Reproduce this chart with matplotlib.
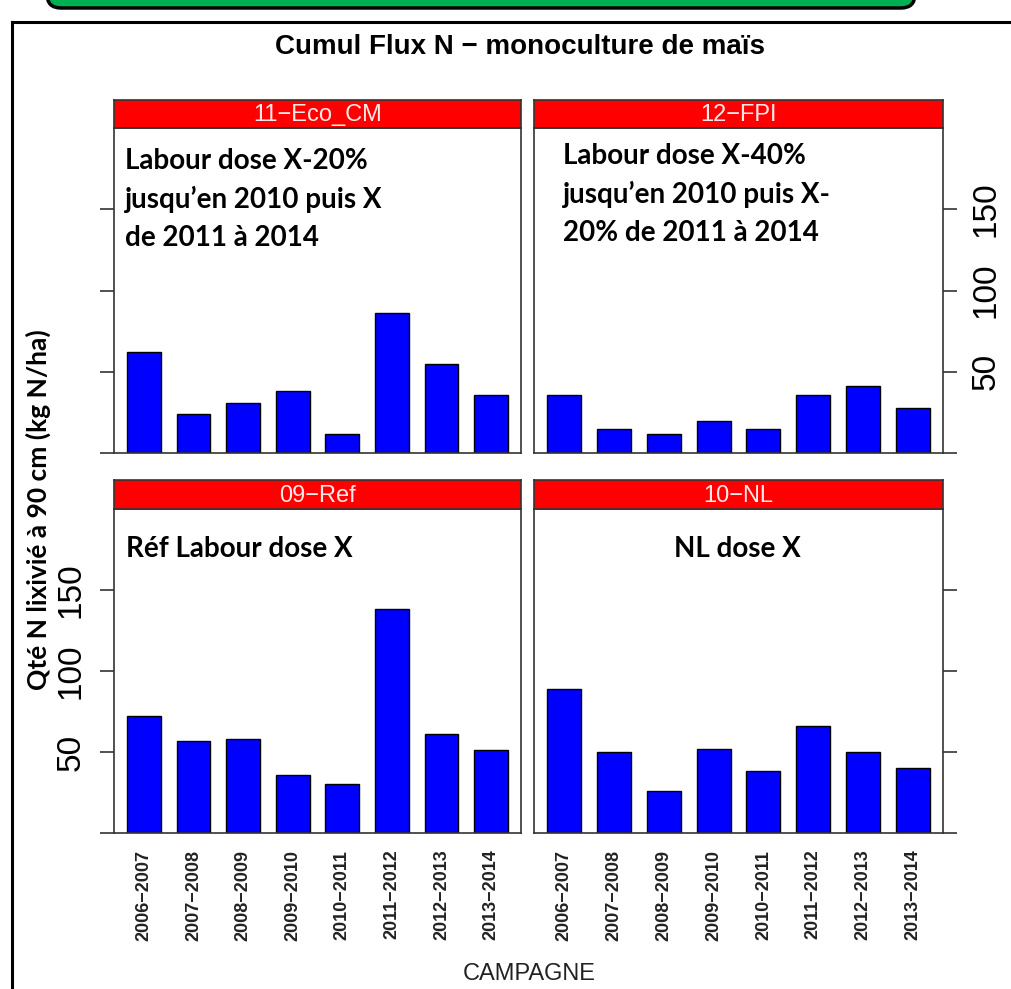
import numpy as np
import matplotlib.pyplot as plt
from matplotlib.patches import FancyBboxPatch
from matplotlib.lines import Line2D
from matplotlib.transforms import IdentityTransform

# campagnes (axe x)
campagnes = ["2006\u22122007", "2007\u22122008", "2008\u22122009", "2009\u22122010",
             "2010\u22122011", "2011\u22122012", "2012\u22122013", "2013\u22122014"]

# cumul flux N (kg N/ha) par traitement
eco_cm = [62, 24, 31, 38, 12, 86, 55, 36]
fpi = [36, 15, 12, 20, 15, 36, 41, 28]
ref = [72, 57, 58, 36, 30, 138, 61, 51]
nl = [89, 50, 26, 52, 38, 66, 50, 40]

panel_names = ["11\u2212Eco_CM", "12\u2212FPI", "09\u2212Ref", "10\u2212NL"]
notes = ["Labour dose X-20%\njusqu\u2019en 2010 puis X\nde 2011 \u00e0 2014",
         "Labour dose X-40%\njusqu\u2019en 2010 puis X-\n20% de 2011 \u00e0 2014",
         "R\u00e9f Labour dose X",
         "NL dose X"]

W, H = 1011, 989
fig = plt.figure(figsize=(W / 100, H / 100), dpi=100)

def fx(x):
    return x / W

def fy(y):
    return 1 - y / H

def add_panel(x0, x1, y0, y1, s0, vals, name, side, ylabels, xlabels):
    ax = fig.add_axes([fx(x0), fy(y1), fx(x1) - fx(x0), fy(y0) - fy(y1)])
    pos = np.arange(1, len(vals) + 1)
    ax.bar(pos, vals, width=0.68, color="#0000ff", edgecolor="black", linewidth=1.0)
    ax.set_xlim(0.4, len(vals) + 0.6)
    ax.set_ylim(0, 200)
    for sp in ax.spines.values():
        sp.set_color("#333333")
        sp.set_linewidth(1.2)
    ax.set_yticks([0, 50, 100, 150])
    if ylabels:
        ax.set_yticklabels(["", "50", "100", "150"])
    else:
        ax.set_yticklabels([])
    ax.tick_params(axis="y", length=10, width=1.2, color="#333333",
                   labelsize=24, labelrotation=90, pad=10,
                   left=(side == "left"), labelleft=(side == "left"),
                   right=(side == "right"), labelright=(side == "right"))
    for lab in ax.get_yticklabels():
        lab.set_verticalalignment("center")
        lab.set_fontfamily("Liberation Sans")
    ax.set_xticks(pos)
    if xlabels:
        ax.set_xticklabels(campagnes, rotation=90, fontsize=13, family="Liberation Sans",
                           fontweight="bold", color="#222222")
        ax.tick_params(axis="x", length=0, pad=12)
    else:
        ax.tick_params(axis="x", length=0, labelbottom=False)
    # bandeau rouge
    st = fig.add_axes([fx(x0), fy(y0), fx(x1) - fx(x0), fy(s0) - fy(y0)])
    st.set_facecolor("#ff0000")
    st.set_xticks([])
    st.set_yticks([])
    for sp in st.spines.values():
        sp.set_color("#333333")
        sp.set_linewidth(1.2)
    st.text(0.5, 0.45, name, ha="center", va="center", color="#ffe8e8",
            fontsize=17, family="Liberation Sans", transform=st.transAxes)
    return ax

add_panel(114, 521, 128, 453, 100, eco_cm, panel_names[0], "left", False, False)
add_panel(534, 943, 128, 453, 100, fpi, panel_names[1], "right", True, False)
add_panel(114, 521, 509, 833, 480, ref, panel_names[2], "left", True, True)
add_panel(534, 943, 509, 833, 480, nl, panel_names[3], "right", False, True)

note_font = dict(family="Lato", fontweight="bold", fontsize=20, color="black")
fig.text(fx(125), fy(148), notes[0], ha="left", va="top", linespacing=1.55, **note_font)
fig.text(fx(563), fy(143), notes[1], ha="left", va="top", linespacing=1.55, **note_font)
fig.text(fx(126), fy(536), notes[2], ha="left", va="top", **note_font)
fig.text(fx(737), fy(536), notes[3], ha="center", va="top", **note_font)

fig.text(fx(520), fy(47), "Cumul Flux N \u2212 monoculture de ma\u00efs", ha="center",
         va="center", fontsize=20, fontweight="bold", family="Liberation Sans")
fig.text(fx(529), fy(974), "CAMPAGNE", ha="center", va="center", fontsize=17,
         family="Liberation Sans", color="#222222")
fig.text(fx(38), fy(510), "Qt\u00e9 N lixivi\u00e9 \u00e0 90 cm (kg N/ha)", rotation=90,
         ha="center", va="center", fontsize=19, fontweight="bold", family="Lato")

# cadre de la capture
fig.add_artist(Line2D([fx(12), 1], [fy(22), fy(22)], color="black", lw=2.2))
fig.add_artist(Line2D([fx(12), fx(12)], [0, fy(22)], color="black", lw=2.2))
box = FancyBboxPatch((47, H - 8), 868, 40, boxstyle="round,pad=0,rounding_size=14",
                     facecolor="#00b050", edgecolor="black", linewidth=2.5,
                     transform=IdentityTransform())
fig.add_artist(box)

fig.savefig("out.png", dpi=100)
